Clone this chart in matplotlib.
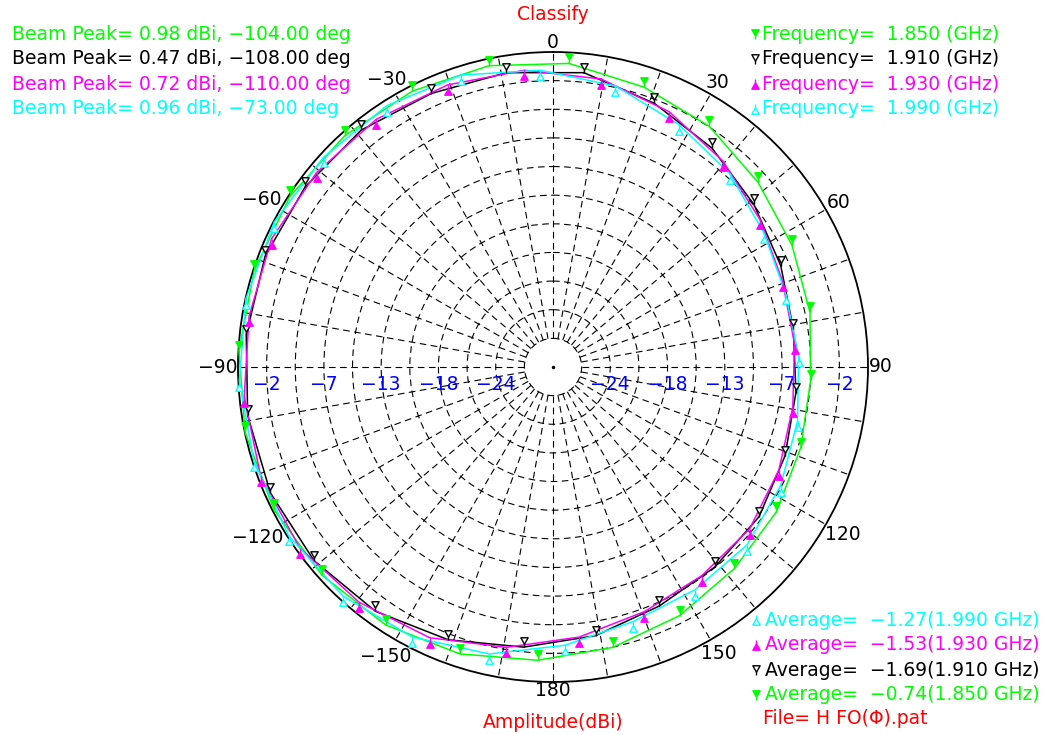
#!/usr/bin/env python3
"""
H-plane amplitude pattern (Classify), four frequencies on a dashed polar grid.
Hanging triangle markers, text legends in three corners.
"""

import numpy as np
import matplotlib
matplotlib.use('Agg')
import matplotlib.pyplot as plt
from matplotlib.path import Path
from matplotlib.lines import Line2D

# ── Data ────────────────────────────────────────────────────
freqs = ['1.850', '1.910', '1.930', '1.990']
peak_gain = [0.98, 0.47, 0.72, 0.96]
peak_dir = [-104, -108, -110, -73]
avg_gain = [-0.74, -1.69, -1.53, -1.27]

# sample angles in deg, clockwise from top (one marker every 15 deg)
ang_1850 = np.arange(3.0, 360, 15)
ang_1910 = np.arange(6.0, 360, 15)
ang_1930 = np.arange(9.5, 360, 15)
ang_1990 = np.arange(12.5, 360, 15)

gain_1850 = [-0.06, -0.99, -1.69, -2.75, -3.49, -4.02, -4.48, -4.23,
             -3.68, -3.21, -2.46, -1.72, -1.05, -0.28, 0.28, 0.62,
             0.85, 0.98, 0.95, 0.91, 0.86, 0.64, 0.49, 0.33]
gain_1910 = [-0.83, -2.12, -3.27, -4.43, -5.31, -5.88, -5.79, -5.39,
             -4.79, -4.54, -4.13, -3.13, -2.20, -1.19, -0.25, 0.29,
             0.46, 0.44, 0.37, 0.37, 0.17, 0.02, -0.50, -0.63]
gain_1930 = [-1.21, -2.32, -3.61, -4.84, -5.72, -5.95, -5.90, -5.41,
             -4.79, -4.64, -4.17, -3.19, -1.95, -0.68, 0.03, 0.64,
             0.72, 0.54, 0.34, 0.45, 0.15, -0.03, -0.33, -0.62]
gain_1990 = [-1.60, -3.02, -4.10, -5.25, -5.83, -5.63, -5.20, -4.60,
             -3.97, -3.88, -3.62, -2.51, -1.02, -0.02, 0.60, 0.86,
             0.86, 0.90, 0.96, 0.92, 0.60, 0.49, 0.15, -0.73]

theta_ticks = [0, 30, 60, 90, 120, 150, 180, 210, 240, 270, 300, 330]
theta_text = ['0', '30', '60', '90', '120', '150', '180',
              '\u2212150', '\u2212120', '\u221290', '\u221260', '\u221230']
ring_text = ['\u22122', '\u22127', '\u221213', '\u221218', '\u221224']

# ── Scale ───────────────────────────────────────────────────
W, H = 1046, 735
CX, CY, RPX = 553, 367, 315          # centre and outer radius in pixels
R_MAX, STEP, N_RING = 1.0, 2.75, 11
R_MIN = R_MAX - N_RING * STEP
rings = R_MAX - STEP * np.arange(1, N_RING)   # dashed circles, outer -> inner
PX2DB = STEP / (RPX / N_RING)

GREEN, BLACK, MAGENTA, CYAN = '#00ff00', '#000000', '#ff00ff', '#00ffff'
BLUE, RED = '#0000ff', '#ff0000'
DASH = (0, (6, 4))

plt.rcParams['font.family'] = 'DejaVu Sans'
FS = 13.5


def hang_marker(above):
    """Triangle on a short stem, stem tip sits on the data point."""
    s = 1 if above else -1
    verts = [(0, 0), (0, 0.4 * s), (-0.45, 1.2 * s), (0.45, 1.2 * s),
             (0, 0.4 * s), (0, 0.4 * s)]
    codes = [Path.MOVETO, Path.LINETO, Path.MOVETO, Path.LINETO,
             Path.LINETO, Path.CLOSEPOLY]
    return Path(verts, codes)


MK_DOWN = hang_marker(True)    # ▼ hanging above the curve
MK_UP = hang_marker(False)     # ▲ hanging below the curve

traces = [
    (ang_1850, gain_1850, GREEN, MK_DOWN, GREEN),
    (ang_1910, gain_1910, BLACK, MK_DOWN, 'white'),
    (ang_1930, gain_1930, MAGENTA, MK_UP, MAGENTA),
    (ang_1990, gain_1990, CYAN, MK_UP, 'white'),
]

# ── Figure / polar axes ─────────────────────────────────────
fig = plt.figure(figsize=(W / 100, H / 100), dpi=100)
ax = fig.add_axes([(CX - RPX) / W, (H - CY - RPX) / H, 2 * RPX / W, 2 * RPX / H],
                  projection='polar')
ax.set_theta_zero_location('N')
ax.set_theta_direction(-1)
ax.set_ylim(R_MIN, R_MAX)
ax.set_xticks([])
ax.set_rgrids(rings, labels=[''] * len(rings))
ax.yaxis.grid(True, color='black', lw=0.8, linestyle=DASH)
ax.spines['polar'].set_linewidth(1.3)
ax.spines['polar'].set_color('black')

# radial dashed spokes from the inner circle out
ax.vlines(np.deg2rad(np.arange(0, 360, 10)), rings[-1], R_MAX,
          colors='black', lw=0.8, linestyles=DASH, zorder=1)
ax.plot([0], [R_MIN], marker='o', ms=1.5, color='black')

# ── Curves ──────────────────────────────────────────────────
for ang, gain, col, mk, face in traces:
    th = np.deg2rad(np.append(ang, ang[0]))
    g = np.append(gain, gain[0])
    ax.plot(th, g, color=col, lw=1.1, zorder=4, clip_on=False)
    ax.plot(np.deg2rad(ang), gain, ls='none', marker=mk, ms=14,
            mfc=face, mec=col, mew=1.0, zorder=5, clip_on=False)

# ── Angle labels ────────────────────────────────────────────
for t, s in zip(theta_ticks, theta_text):
    w_px = sum(0.838 if c == '\u2212' else 0.636 for c in s) * FS / 0.72
    a = np.deg2rad(t)
    r_px = 317 + 0.45 * w_px * abs(np.sin(a)) + 7 * abs(np.cos(a))
    ax.text(a, R_MAX + (r_px - RPX) * PX2DB, s, fontsize=FS, color='black',
            ha='center', va='center', clip_on=False)

# ── Radial level labels (blue, both sides) ──────────────────
for s, r in zip(ring_text, rings[::2]):
    for side in (np.pi / 2, 3 * np.pi / 2):
        ax.annotate(s, xy=(side, r), xytext=(0, -12.5), textcoords='offset points',
                    fontsize=FS, color=BLUE, ha='center', va='center')


# ── Text blocks ─────────────────────────────────────────────
def ftext(x, y, s, color, **kw):
    fig.text(x / W, 1 - y / H, s, fontsize=FS, color=color, va='center', **kw)


def fmark(x, y, tr):
    _, _, col, mk, face = tr
    y0 = y + 5 if mk is MK_DOWN else y - 5
    fig.add_artist(Line2D([x / W], [1 - y0 / H], transform=fig.transFigure,
                          marker=mk, ms=14, mfc=face, mec=col, mew=1.0, ls='none'))


def neg(v, fmt):
    return format(v, fmt).replace('-', '\u2212')


ftext(553, 15, 'Classify', RED, ha='center')
ftext(553, 722, 'Amplitude(dBi)', RED, ha='center')

for i, tr in enumerate(traces):
    y = 34 + 25 * i
    ftext(12, y, f'Beam Peak= {neg(peak_gain[i], ".2f")} dBi, '
                 f'{neg(peak_dir[i], ".2f")} deg', tr[2])
    fmark(755, y, tr)
    ftext(762, y, f'Frequency=  {freqs[i]} (GHz)', tr[2])

for j, i in enumerate([3, 2, 1, 0]):
    y = 620 + 25 * j
    fmark(756, y, traces[i])
    ftext(765, y, f'Average=  {neg(avg_gain[i], ".2f")}({freqs[i]} GHz)', traces[i][2])
ftext(763, 719, 'File= H FO(\u03a6).pat', RED)

fig.savefig('out.png', dpi=100, facecolor='white')
plt.close(fig)
